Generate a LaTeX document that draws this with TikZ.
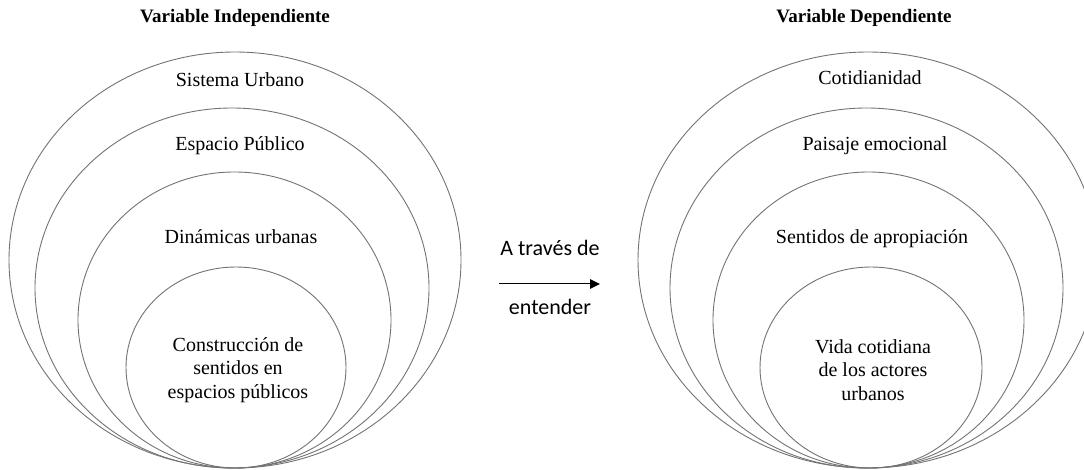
\documentclass[tikz,border=0pt]{standalone}
\usepackage{fontspec}
\setmainfont{Liberation Serif}
\newfontfamily\calibrifont{Carlito}
\usetikzlibrary{arrows.meta,positioning}
\tikzset{ring/.style={draw=black!55,line width=0.9pt},
  lbl/.style={font=\fontsize{20}{23.5}\selectfont,align=center,inner sep=0pt},
  ttl/.style={font=\fontsize{19}{22}\selectfont\bfseries,inner sep=0pt,anchor=base},
  mid/.style={font=\calibrifont\fontsize{22}{26}\selectfont,inner sep=0pt,anchor=base}}

\begin{document}
\begin{tikzpicture}[x=1pt,y=-1pt,>={Triangle[length=10pt,width=9.5pt]},line join=round]
\useasboundingbox (0,0) rectangle (1084,470);
\clip (0,0) rectangle (1084,470);
% --- left: nested rings of the independent variable
\begin{scope}
\draw[ring] (235,260) ellipse (226pt and 208pt);
\draw[ring] (232,288) ellipse (197pt and 180pt);
\draw[ring] (234.5,320) ellipse (156.5pt and 148pt);
\draw[ring] (236,367.5) ellipse (110pt and 100.5pt);
\node[ttl] (vindTitle) at (235,23) {Variable Independiente};
\node[lbl,anchor=base] (sistema) at (240,87) {Sistema Urbano};
\node[lbl,anchor=base] (espacio) at (240,151) {Espacio Público};
\node[lbl,anchor=base] (dinamicas) at (241,244) {Dinámicas urbanas};
\node[lbl] (construccion) at (238,370) {Construcción de\\sentidos en\\espacios públicos};
\end{scope}
% --- right: nested rings of the dependent variable
\begin{scope}[xshift=633pt]
\draw[ring] (235,260) ellipse (230pt and 208pt);
\draw[ring] (233.5,288) ellipse (196.5pt and 180pt);
\draw[ring] (235.5,320) ellipse (155.5pt and 148pt);
\draw[ring] (238,367.5) ellipse (111pt and 100.5pt);
\node[ttl] (vdepTitle) at (231,23) {Variable Dependiente};
\node[lbl,anchor=base] (cotidianidad) at (237,85) {Cotidianidad};
\node[lbl,anchor=base] (paisaje) at (242,151) {Paisaje emocional};
\node[lbl,anchor=base] (sentidos) at (239,244) {Sentidos de apropiación};
\node[lbl] (vida) at (240,370) {Vida cotidiana\\de los actores\\urbanos};
\end{scope}
% --- link between both sides
\coordinate (arrStart) at (499,284);
\coordinate (arrEnd) at (600,284);
\draw[->,line width=1pt] (arrStart) -- (arrEnd);
\node[mid] (atraves) at (550,256) {A través de};
\node[mid] (entender) at (550,314) {entender};
\end{tikzpicture}
\end{document}
